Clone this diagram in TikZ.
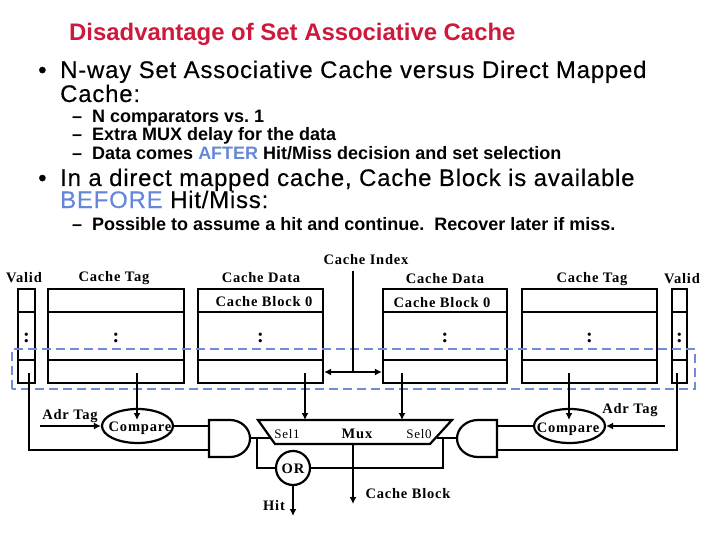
\documentclass[tikz,border=0pt]{standalone}
\usepackage{fontspec}
\usepackage{xcolor}
\setmainfont{Liberation Serif}
\setsansfont{Liberation Sans}
\usetikzlibrary{positioning,shapes.geometric,arrows.meta}
\definecolor{titlered}{RGB}{205,25,60}
\definecolor{slideblue}{RGB}{100,135,215}
\definecolor{dashblue}{RGB}{110,140,215}
\newfontfamily\labelfont[LetterSpace=5.5]{Liberation Serif}
\newfontfamily\headfont[LetterSpace=3.2,FakeBold=0.3]{Liberation Sans}
\newfontfamily\subfont{Liberation Sans}
\frenchspacing
\tikzset{
	wire/.style={line width=2.2pt},
	arrowwire/.style={line width=2.2pt,-{Latex[length=7pt,width=7pt]}},
	lab/.style={font=\labelfont\bfseries\fontsize{14.5}{16}\selectfont,inner sep=0pt},
	small/.style={font=\labelfont\fontsize{13}{14}\selectfont,inner sep=0pt},
	slide/.style={anchor=base west,inner sep=0pt,font=\headfont\fontsize{24}{24}\selectfont},
	subslide/.style={anchor=base west,inner sep=0pt,font=\subfont\bfseries\fontsize{18}{18}\selectfont},
	gate/.style={draw,line width=2.2pt,inner sep=0pt},
}
%left, right and name of a cache column
\newcommand{\cachecol}[3]{
	\node[gate,minimum width=#2pt-#1pt,minimum height=94pt] (#3) at ({(#1+#2)/2},336) {};
	\draw[wire] (#1-1,312) -- (#2+1,312);
	\draw[wire] (#1-1,360) -- (#2+1,360);
	\node[lab] (#3dots) at ({(#1+#2)/2},338) {\fontsize{20}{20}\selectfont :};
}
\begin{document}
\begin{tikzpicture}[x=1pt,y=-1pt]
	\useasboundingbox (0,0) rectangle (720,540);
	%
	%slide text
	\node[anchor=base west,inner sep=0pt,text=titlered,font=\subfont\bfseries\fontsize{23.9}{24}\selectfont] (title) at (69,41) {Disadvantage of Set Associative Cache};
	\node[slide] (dota) at (38,78) {•};
	\node[slide] (linea) at (60,78) {N-way Set Associative Cache versus Direct Mapped};
	\node[slide] (lineb) at (60,102) {Cache:};
	\node[subslide] (dasha) at (72,123) {–};
	\node[subslide] (subA) at (92,123) {N comparators vs. 1};
	\node[subslide] (dashb) at (72,141) {–};
	\node[subslide] (subB) at (92,141) {Extra MUX delay for the data};
	\node[subslide] (dashc) at (72,160) {–};
	\node[subslide] (subC) at (92,160) {Data comes \textcolor{slideblue}{AFTER} Hit/Miss decision and set selection};
	\node[slide] (dotb) at (38,186) {•};
	\node[slide] (linec) at (60,186) {In a direct mapped cache, Cache Block is available};
	\node[slide] (lined) at (60,208) {\textcolor{slideblue}{BEFORE} Hit/Miss:};
	\node[subslide] (dashd) at (72,230) {–};
	\node[subslide] (subD) at (92,230) {Possible to assume a hit and continue.\ \ Recover later if miss.};
	%
	%cache columns
	\cachecol{18}{35}{validL}
	\cachecol{48}{184}{tagL}
	\cachecol{198}{323}{dataL}
	\cachecol{383}{507}{dataR}
	\cachecol{522}{657}{tagR}
	\cachecol{672}{687}{validR}
	%
	%column heads
	\node[lab] (headvL) at (24,278) {Valid};
	\node[lab] (headtL) at (114,278) {Cache Tag};
	\node[lab] (headdL) at (261,278) {Cache Data};
	\node[lab] (headi) at (366,260) {Cache Index};
	\node[lab] (headdR) at (445,279) {Cache Data};
	\node[lab] (headtR) at (592,279) {Cache Tag};
	\node[lab] (headvR) at (682,279) {Valid};
	\node[lab] (blockL) at (264,302) {Cache Block 0};
	\node[lab] (blockR) at (442,303) {Cache Block 0};
	%
	%selected set
	\draw[dashblue,line width=2.8pt,dash pattern=on 9pt off 5pt] (12,389) -- (12,349) -- (695,349) -- (695,389) -- cycle;
	%
	%index wire
	\coordinate (indextop) at (353,271);
	\coordinate (indexmid) at (353,372);
	\draw[wire] (indextop) -- (indexmid);
	\draw[arrowwire] (indexmid) -- (dataL.east |- indexmid);
	\draw[arrowwire] (indexmid) -- (dataR.west |- indexmid);
	%
	%comparators
	\node[gate,ellipse,minimum width=71pt,minimum height=34pt] (cmpL) at (137.5,426) {};
	\node[gate,ellipse,minimum width=71pt,minimum height=34pt] (cmpR) at (569.5,426) {};
	\node[lab] (cmpLtext) at (140,428) {Compare};
	\node[lab] (cmpRtext) at (568,429) {Compare};
	\node[lab] (adrL) at (70,416) {Adr Tag};
	\node[lab] (adrR) at (630,410) {Adr Tag};
	\coordinate (adrLend) at (40,426);
	\coordinate (adrRend) at (665,426);
	\draw[arrowwire] (adrLend) -- (cmpL.west);
	\draw[arrowwire] (adrRend) -- (cmpR.east);
	\coordinate (tagLout) at (137,373);
	\coordinate (tagRout) at (569,373);
	\draw[arrowwire] (tagLout) -- (137,420);
	\draw[arrowwire] (tagRout) -- (569,420);
	%
	%and gates
	\coordinate (andL) at (209,420);
	\draw[wire] (andL) -- (230,420) arc[start angle=-90,end angle=90,x radius=20,y radius=18.5] -- (209,457) -- cycle;
	\coordinate (andR) at (497,420);
	\draw[wire] (andR) -- (478,420) arc[start angle=-90,end angle=-270,x radius=21,y radius=18.5] -- (497,457) -- cycle;
	\draw[wire] (cmpL.east) -- (209,426);
	\draw[wire] (cmpR.west) -- (497,426);
	\coordinate (validLout) at (29,373);
	\coordinate (validRout) at (677,373);
	\draw[wire] (validLout) -- (29,450) -- (209,450);
	\draw[wire] (validRout) -- (677,450) -- (497,450);
	%
	%mux
	\draw[wire] (258,420) -- (452,420) -- (430,444) -- (275,444) -- cycle;
	\coordinate (dataLout) at (305,373);
	\coordinate (dataRout) at (402,373);
	\draw[arrowwire] (dataLout) -- (305,420);
	\draw[arrowwire] (dataRout) -- (402,420);
	\node[small] (sela) at (287,434) {Sel1};
	\node[small] (selb) at (419,434) {Sel0};
	\node[lab] (muxtext) at (357,434) {Mux};
	%
	%or and outputs
	\node[gate,circle,minimum size=34pt] (orgate) at (293,468) {};
	\node[lab] (ortext) at (293,469) {OR};
	\draw[wire] (250,438) -- (270,438);
	\draw[wire] (457,438) -- (437,438);
	\draw[wire] (257,438) -- (257,468) -- (orgate.west);
	\draw[wire] (443,438) -- (443,468) -- (orgate.east);
	\coordinate (hitend) at (293,516);
	\coordinate (blockend) at (353,504);
	\draw[arrowwire] (orgate.south) -- (hitend);
	\draw[arrowwire] (353,444) -- (blockend);
	\node[lab] (hittext) at (274,506) {Hit};
	\node[lab] (blocktext) at (408,494) {Cache Block};
\end{tikzpicture}
\end{document}
